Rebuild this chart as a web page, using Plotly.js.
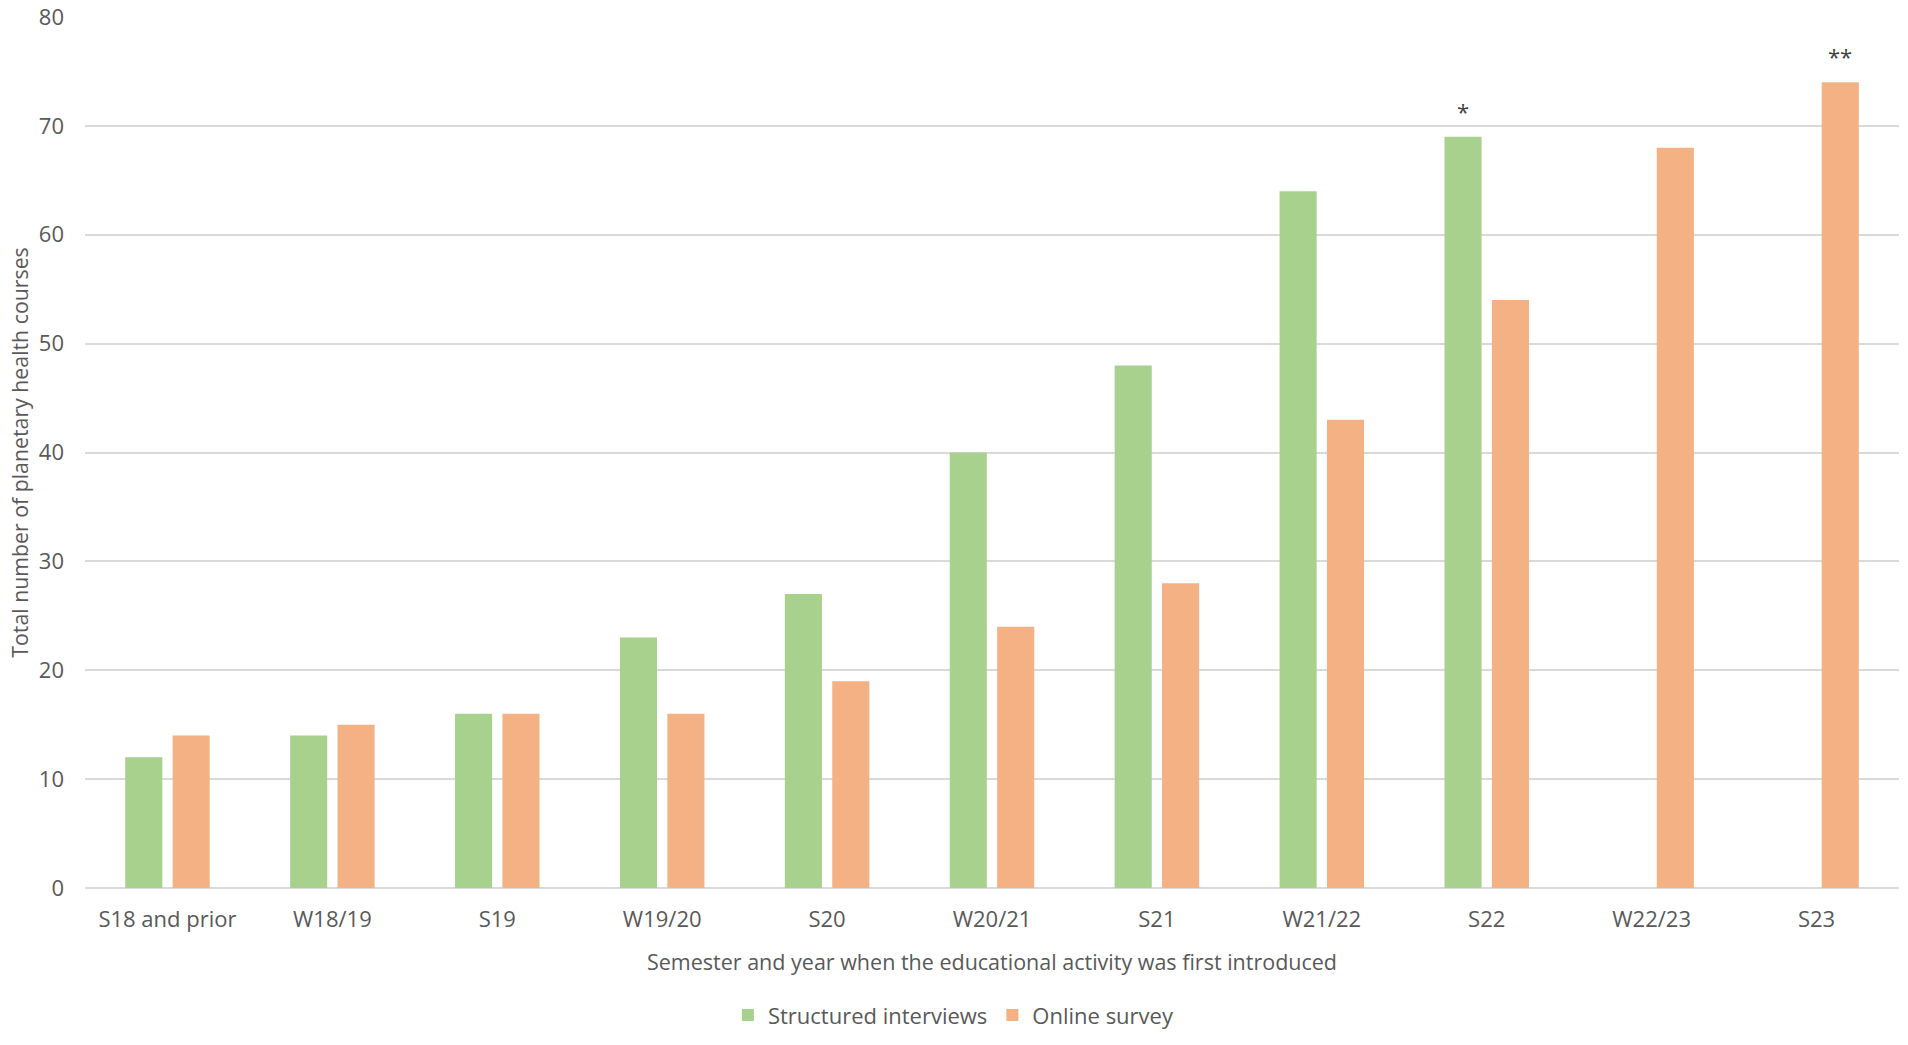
<!DOCTYPE html>
<html>
<head>
<meta charset="utf-8">
<script src="https://cdn.plot.ly/plotly-3.0.1.min.js"></script>
<style>html,body{margin:0;padding:0;background:#fff;}#chart{width:1908px;height:1045px;}</style>
</head>
<body>
<div id="chart"></div>
<script>
const categories = ["S18 and prior","W18/19","S19","W19/20","S20","W20/21","S21","W21/22","S22","W22/23","S23"];
const interviews = [12,14,16,23,27,40,48,64,69,null,null];
const survey = [14,15,16,16,19,24,28,43,54,68,74];
const yTicks = [0,10,20,30,40,50,60,70,80];
const marks = [
  {series: 0, category: "S22", value: 69, text: "*"},
  {series: 1, category: "S23", value: 74, text: "**"}
];

const W = 1908, H = 1045;
const margin = {l: 85, r: 9, t: 17, b: 148};
const bargap = 0.425, bargroupgap = 0.218;
const plotW = W - margin.l - margin.r;
const catW = plotW / categories.length;
const slot = (1 - bargap) / 2 * catW;
const font = '"Open Sans", "DejaVu Sans", sans-serif';
const txt = '#595959';
const fs = 22;

const traces = [
  {type: 'bar', name: 'Structured interviews', x: categories, y: interviews,
   marker: {color: '#A9D18E'}, hoverinfo: 'x+y'},
  {type: 'bar', name: 'Online survey', x: categories, y: survey,
   marker: {color: '#F4B183'}, hoverinfo: 'x+y'}
];

const annotations = marks.map(m => ({
  x: m.category, y: m.value, xref: 'x', yref: 'y', text: m.text,
  showarrow: false, yanchor: 'bottom', yshift: 9,
  xshift: (m.series === 0 ? -1 : 1) * slot / 2,
  font: {family: font, size: fs, color: '#404040'}
}));

const layout = {
  width: W, height: H,
  margin: margin,
  paper_bgcolor: '#fff', plot_bgcolor: '#fff',
  barmode: 'group', bargap: bargap, bargroupgap: bargroupgap,
  font: {family: font, size: fs, color: txt},
  xaxis: {
    type: 'category', range: [-0.5, categories.length - 0.5],
    showgrid: false, zeroline: false, showline: false, ticks: '',
    tickfont: {family: font, size: fs, color: txt},
    ticklabelstandoff: 16,
    title: {text: 'Semester and year when the educational activity was first introduced',
            font: {family: font, size: 21.5, color: txt}, standoff: 22},
    automargin: false
  },
  yaxis: {
    range: [0, 80], tickvals: yTicks, ticktext: yTicks.map(String),
    showgrid: true, gridcolor: '#D9D9D9', gridwidth: 2,
    zeroline: true, zerolinecolor: '#D9D9D9', zerolinewidth: 2,
    showline: false, ticks: '',
    tickfont: {family: font, size: fs, color: txt},
    ticklabelstandoff: 20,
    title: {text: 'Total number of planetary health courses',
            font: {family: font, size: 21.3, color: txt}, standoff: 4},
    automargin: false
  },
  showlegend: true,
  legend: {orientation: 'h', x: 0.479, xanchor: 'center', y: -0.146, yanchor: 'middle',
           font: {family: font, size: fs, color: txt}, itemwidth: 30,
           traceorder: 'normal', bgcolor: 'rgba(0,0,0,0)'},
  annotations: annotations
};

Plotly.newPlot('chart', traces, layout, {displayModeBar: false, staticPlot: true});
</script>
</body>
</html>
